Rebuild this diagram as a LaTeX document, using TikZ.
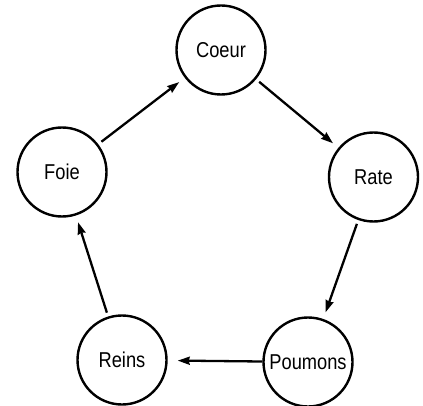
\documentclass[tikz,border=0pt]{standalone}
\usepackage{fontspec}
\setmainfont[FakeStretch=0.85]{Liberation Sans}
\usetikzlibrary{arrows.meta}
\begin{document}
\begin{tikzpicture}[x=1pt,y=1pt,line join=round,>={Stealth[length=12pt,width=8pt,inset=1pt]},
	organe/.style={draw,circle,line width=2.4pt,minimum size=89pt,inner sep=0pt,font=\fontsize{21.5}{24}\selectfont},
	flux/.style={->,line width=2.3pt,shorten <=4pt,shorten >=7pt}]
			
			\useasboundingbox (0,0) rectangle (423,405);
			\node[organe] (coeur) at (221,355) {Coeur};
			\node[organe] (rate) at (373.5,228) {Rate};
			\node[organe] (poumons) at (308,43) {Poumons};
			\node[organe] (reins) at (122,45) {Reins};
			\node[organe] (foie) at (62,233) {Foie};
			
			\draw[flux] (foie)--(coeur);
			\draw[flux] (coeur)--(rate);
			\draw[flux] (rate)--(poumons);
			\draw[flux,shorten <=0pt,shorten >=10pt] (poumons)--(reins);
			\draw[flux] (reins)--(foie);
	\end{tikzpicture}
\end{document}
